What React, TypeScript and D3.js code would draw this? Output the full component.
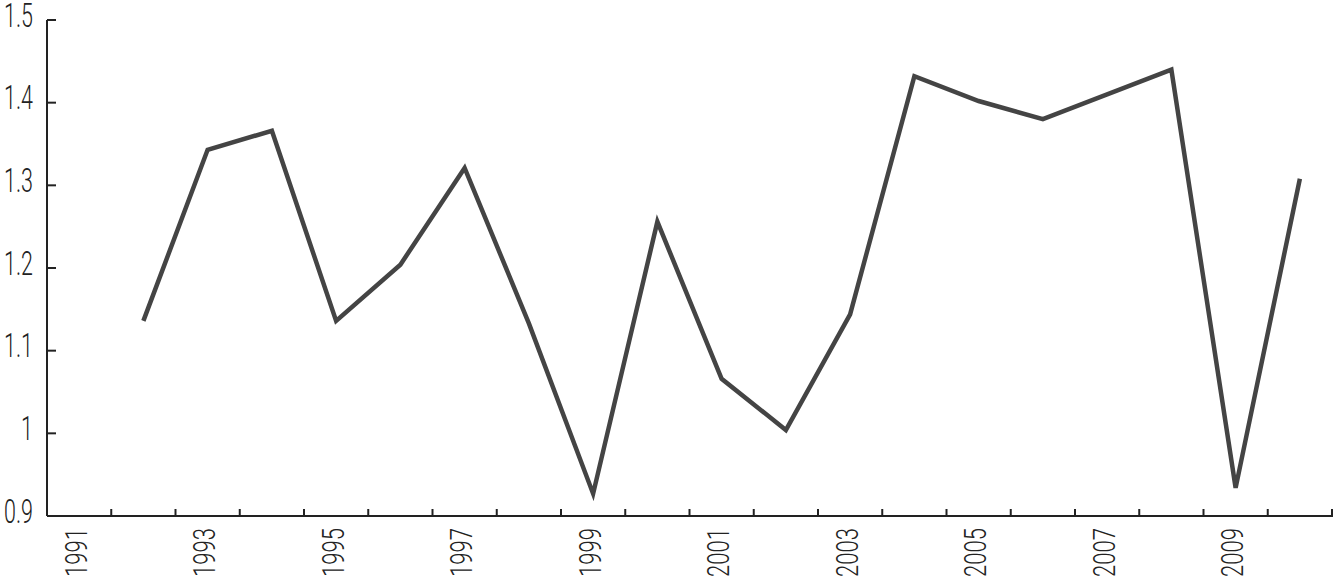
import React, { useEffect, useRef } from 'react';
import * as d3 from 'd3';

const years = d3.range(1991, 2011).map(String);
const seriesYears = d3.range(1992, 2011).map(String);
const seriesValues = [
  1.136, 1.343, 1.366, 1.136, 1.204, 1.321, 1.133, 0.927, 1.256, 1.066,
  1.004, 1.144, 1.432, 1.402, 1.38, 1.41, 1.44, 0.934, 1.308,
];
const yTicks = [0.9, 1, 1.1, 1.2, 1.3, 1.4, 1.5];

const FONT = "Roboto, 'DejaVu Sans', sans-serif";

const App = () => {
  const svgRef = useRef<SVGSVGElement>(null);

  useEffect(() => {
    const svg = d3.select(svgRef.current);
    svg.selectAll('*').remove();

    const left = 47;
    const right = 1332;
    const top = 20;
    const bottom = 516;

    const x = d3.scaleBand().domain(years).range([left, right]).padding(0);
    const y = d3.scaleLinear().domain([0.9, 1.5]).range([bottom, top]);

    // y axis
    const yAxis = svg.append('g').attr('transform', `translate(${left},0)`);
    yAxis
      .append('line')
      .attr('x1', 0)
      .attr('x2', 0)
      .attr('y1', y(1.5))
      .attr('y2', y(0.9))
      .attr('stroke', '#222')
      .attr('stroke-width', 2);
    yAxis
      .selectAll('.ytick')
      .data(yTicks)
      .join('line')
      .attr('x1', 0)
      .attr('x2', 9)
      .attr('y1', (d) => y(d))
      .attr('y2', (d) => y(d))
      .attr('stroke', '#222')
      .attr('stroke-width', 2);
    yAxis
      .selectAll('.ylabel')
      .data(yTicks)
      .join('text')
      .attr('transform', (d) => `translate(-14,${y(d) + 6.5}) scale(0.65,1)`)
      .attr('text-anchor', 'end')
      .attr('font-family', FONT)
      .attr('font-weight', 300)
      .attr('font-size', 33)
      .attr('fill', '#222')
      .text((d) => d3.format('~g')(d));

    // x axis
    const xAxis = svg.append('g');
    xAxis
      .append('line')
      .attr('x1', left)
      .attr('x2', right + 1)
      .attr('y1', bottom)
      .attr('y2', bottom)
      .attr('stroke', '#222')
      .attr('stroke-width', 2);
    const tickPos = years.map((d) => (x(d) as number) + x.bandwidth());
    xAxis
      .selectAll('.xtick')
      .data(tickPos)
      .join('line')
      .attr('x1', (d) => d)
      .attr('x2', (d) => d)
      .attr('y1', bottom)
      .attr('y2', bottom - 7)
      .attr('stroke', '#222')
      .attr('stroke-width', 2);
    xAxis
      .selectAll('.xlabel')
      .data(years.filter((d) => +d % 2 === 1))
      .join('text')
      .attr(
        'transform',
        (d) =>
          `translate(${(x(d) as number) + x.bandwidth() / 2 + 7.5},${bottom + 12}) rotate(-90) scale(0.69,1)`
      )
      .attr('text-anchor', 'end')
      .attr('font-family', FONT)
      .attr('font-weight', 300)
      .attr('font-size', 32)
      .attr('fill', '#222')
      .text((d) => d);

    // series line
    const line = d3
      .line<number>()
      .x((_, i) => (x(seriesYears[i]) as number) + x.bandwidth() / 2)
      .y((d) => y(d));
    svg
      .append('path')
      .datum(seriesValues)
      .attr('d', line)
      .attr('fill', 'none')
      .attr('stroke', '#444')
      .attr('stroke-width', 4.5)
      .attr('stroke-linejoin', 'miter');
  }, []);

  return (
    <svg
      ref={svgRef}
      width={1333}
      height={580}
      style={{ position: 'absolute', left: 0, top: 0, background: '#fff' }}
    />
  );
};

export default App;
